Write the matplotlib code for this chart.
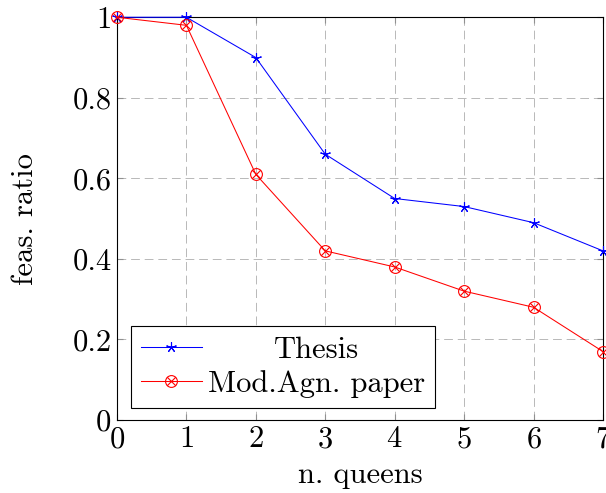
import matplotlib
matplotlib.use('Agg')
import matplotlib.pyplot as plt
from matplotlib.path import Path
import numpy as np

# data
queens = [0, 1, 2, 3, 4, 5, 6, 7]
thesis = [1.0, 1.0, 0.9, 0.66, 0.55, 0.53, 0.49, 0.42]
mod_agn = [1.0, 0.98, 0.61, 0.42, 0.38, 0.32, 0.28, 0.17]

plt.rcParams['font.family'] = 'serif'
plt.rcParams['font.serif'] = ['cmr10']
plt.rcParams['mathtext.fontset'] = 'cm'
plt.rcParams['axes.formatter.use_mathtext'] = True

fs = 22

# circle with a cross inside (pgfplots otimes)
circ = Path.unit_circle()
c = np.sqrt(0.5)
cross = Path([(-c, -c), (c, c), (-c, c), (c, -c)],
             [Path.MOVETO, Path.LINETO, Path.MOVETO, Path.LINETO])
otimes = Path.make_compound_path(circ, cross)

fig = plt.figure(figsize=(6.06, 4.93), dpi=100)
ax = fig.add_axes([0.193, 0.148, 0.802, 0.817])

ax.plot(queens, thesis, color='blue', lw=0.75, marker=(5, 2, 0),
        markersize=7.5, markeredgewidth=0.8, label='Thesis', clip_on=False,
        zorder=3)
ax.plot(queens, mod_agn, color='red', lw=0.75, marker=otimes,
        markersize=8.5, markerfacecolor='none', markeredgewidth=0.8,
        label='Mod.Agn. paper', clip_on=False, zorder=3)

ax.set_xlim(0, 7)
ax.set_ylim(0, 1)
ax.set_xticks(queens)
ax.set_yticks([0, 0.2, 0.4, 0.6, 0.8, 1.0])
ax.set_yticklabels(['0', '0.2', '0.4', '0.6', '0.8', '1'])
ax.grid(True, color='#b8b8b8', linestyle=(0, (9, 5)), lw=0.7)
ax.tick_params(direction='in', labelsize=fs, color='#909090',
               top=True, right=True, length=4, pad=4)
for s in ax.spines.values():
    s.set_linewidth(0.8)

ax.set_xlabel('n. queens', fontsize=fs, labelpad=6)
ax.set_ylabel('feas. ratio', fontsize=fs, labelpad=24)

leg = ax.legend(loc='lower left', bbox_to_anchor=(0.029, 0.03), fontsize=fs,
                fancybox=False, framealpha=1, edgecolor='black',
                handlelength=2.0, borderpad=0.32, labelspacing=0.22,
                handletextpad=0.2, borderaxespad=0)
leg.get_frame().set_linewidth(0.8)

# centre the legend texts like pgfplots does
fig.canvas.draw()
r = fig.canvas.get_renderer()
texts = leg.get_texts()
widths = [t.get_window_extent(r).width for t in texts]
wmax = max(widths)
for t, w in zip(texts, widths):
    t.set_position(((wmax - w) / 2, 0))

fig.savefig('out.png', dpi=100)
